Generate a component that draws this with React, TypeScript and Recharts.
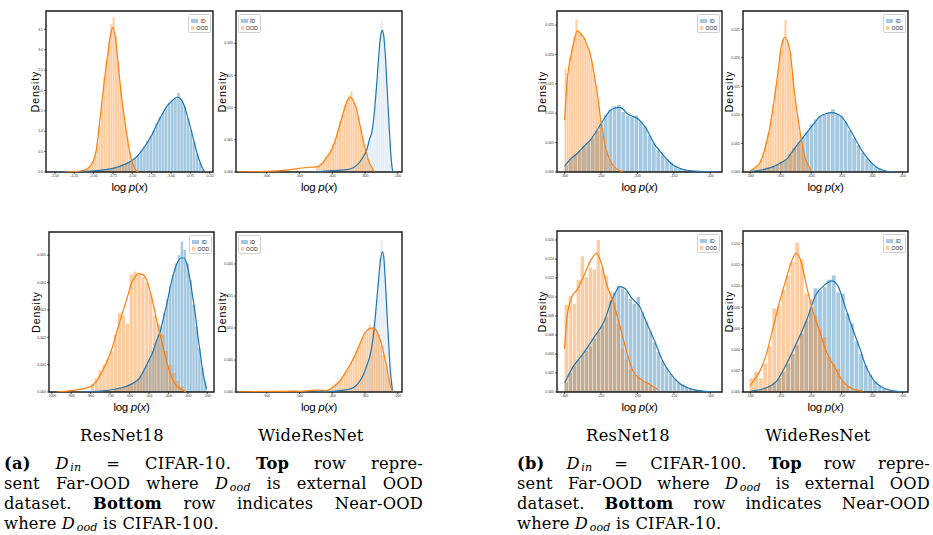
import React from "react";
import { Bar, ComposedChart, Legend, Line, ReferenceArea, XAxis, YAxis } from "recharts";

type Pt = [number, number];

const ID_COLOR = "#1f77b4";
const OOD_COLOR = "#ff7f0e";
const legendItems = [
  { name: "ID", color: ID_COLOR },
  { name: "OOD", color: OOD_COLOR },
];
const modelNames = ["ResNet18", "WideResNet"];

// ---- (a) top-left: ResNet18, CIFAR-10 far ----
const a1XTicks = [-2.5, -2.25, -2.0, -1.75, -1.5, -1.25, -1.0, -0.75, -0.5];
const a1YTicks = [0, 0.5, 1.0, 1.5, 2.0, 2.5, 3.0, 3.5];
const a1IdStart = -1.98;
const a1IdBin = 0.04;
const a1IdHist = [0.03, 0.04, 0.05, 0.06, 0.07, 0.08, 0.1, 0.12, 0.15, 0.17, 0.21, 0.25, 0.29, 0.35, 0.42, 0.52, 0.62, 0.76, 0.88, 1.02, 1.2, 1.36, 1.46, 1.58, 1.7, 1.74, 1.82, 1.94, 1.78, 1.62, 1.32, 1.02, 0.74, 0.44, 0.22, 0.06];
const a1OodStart = -2.22;
const a1OodBin = 0.03;
const a1OodHist = [0.02, 0.02, 0.03, 0.05, 0.07, 0.1, 0.16, 0.26, 0.42, 0.7, 1.15, 1.7, 2.3, 2.75, 3.2, 3.62, 3.8, 3.35, 2.7, 2.15, 1.6, 1.2, 0.85, 0.5, 0.28, 0.12, 0.05, 0.02];
const a1IdKde: Pt[] = [[-2.48, 0], [-2.2, 0.01], [-2.0, 0.03], [-1.85, 0.06], [-1.75, 0.09], [-1.65, 0.15], [-1.55, 0.23], [-1.49, 0.3], [-1.42, 0.42], [-1.36, 0.57], [-1.3, 0.74], [-1.24, 0.94], [-1.18, 1.18], [-1.11, 1.43], [-1.05, 1.62], [-1.0, 1.72], [-0.96, 1.79], [-0.92, 1.84], [-0.88, 1.8], [-0.84, 1.68], [-0.8, 1.45], [-0.76, 1.18], [-0.72, 0.88], [-0.68, 0.58], [-0.64, 0.32], [-0.6, 0.12], [-0.57, 0.03]];
const a1OodKde: Pt[] = [[-2.37, 0], [-2.25, 0.01], [-2.15, 0.03], [-2.08, 0.08], [-2.0, 0.29], [-1.96, 0.6], [-1.93, 1.1], [-1.9, 1.6], [-1.87, 2.1], [-1.84, 2.58], [-1.81, 3.0], [-1.78, 3.38], [-1.75, 3.55], [-1.72, 3.3], [-1.69, 2.8], [-1.66, 2.2], [-1.63, 1.7], [-1.6, 1.3], [-1.57, 0.9], [-1.54, 0.55], [-1.51, 0.3], [-1.48, 0.13], [-1.45, 0.04], [-1.42, 0]];

// ---- (a) top-right: WideResNet, CIFAR-10 far ----
const wideXTicks = [-600, -500, -400, -300, -200];
const wideYTicks = [0, 0.005, 0.01, 0.015, 0.02];
const a2IdStart = -338;
const a2IdBin = 6;
const a2IdHist = [0.0005, 0.0007, 0.0009, 0.0013, 0.0017, 0.0022, 0.0028, 0.0035, 0.0044, 0.0056, 0.0068, 0.0092, 0.0128, 0.0168, 0.0208, 0.0238, 0.0215, 0.016, 0.0102, 0.0048, 0.0012];
const a2OodStart = -446;
const a2OodBin = 7;
const a2OodHist = [0.0008, 0.001, 0.0014, 0.0018, 0.0024, 0.0029, 0.0036, 0.0044, 0.0053, 0.0064, 0.0079, 0.0088, 0.0104, 0.0111, 0.0119, 0.0125, 0.0108, 0.0101, 0.0085, 0.0068, 0.0052, 0.0036, 0.0022, 0.0012, 0.0005];
const a2IdKde: Pt[] = [[-460, 0], [-400, 0.0002], [-350, 0.0004], [-335, 0.0007], [-320, 0.0013], [-305, 0.0024], [-295, 0.0034], [-285, 0.0053], [-279, 0.0062], [-272, 0.009], [-264, 0.0138], [-258, 0.018], [-254, 0.0204], [-250, 0.0217], [-247, 0.022], [-243, 0.0212], [-239, 0.019], [-234, 0.0145], [-229, 0.0096], [-225, 0.006], [-222, 0.0034], [-219, 0.0015], [-216, 0.0003], [-213, 0]];
const a2OodKde: Pt[] = [[-688, 0], [-600, 0.0001], [-540, 0.0003], [-479, 0.0007], [-448, 0.0008], [-433, 0.0012], [-418, 0.0022], [-402, 0.0034], [-389, 0.0052], [-376, 0.0075], [-368, 0.0089], [-361, 0.0101], [-353, 0.0112], [-345, 0.0116], [-337, 0.0112], [-331, 0.0105], [-325, 0.0096], [-318, 0.0079], [-310, 0.006], [-303, 0.0043], [-295, 0.0029], [-288, 0.0016], [-280, 0.0008], [-273, 0.0001]];

// ---- (a) bottom-left: ResNet18, CIFAR-10 near ----
const a3XTicks = [-1000, -900, -800, -700, -600, -500, -400, -300, -200];
const a3YTicks = [0, 0.001, 0.002, 0.003, 0.004, 0.005];
const a3IdStart = -675;
const a3IdBin = 15;
const a3IdHist = [0.0001, 0.0001, 0.00015, 0.0002, 0.00022, 0.00028, 0.00033, 0.0004, 0.0005, 0.0006, 0.0008, 0.001, 0.0012, 0.0015, 0.0018, 0.0021, 0.0024, 0.0029, 0.0034, 0.0039, 0.0043, 0.0047, 0.005, 0.0055, 0.0052, 0.0047, 0.0041, 0.0032, 0.0024, 0.0016, 0.0009, 0.0004];
const a3OodStart = -790;
const a3OodBin = 20;
const a3OodHist = [0.0003, 0.0005, 0.0008, 0.001, 0.0012, 0.0015, 0.0021, 0.0029, 0.0028, 0.0025, 0.0043, 0.0044, 0.0043, 0.0042, 0.004, 0.0036, 0.0028, 0.0025, 0.0021, 0.0015, 0.001, 0.0007, 0.0004, 0.0002];
const a3IdKde: Pt[] = [[-850, 0], [-750, 0.00003], [-675, 0.0001], [-620, 0.0002], [-580, 0.00033], [-550, 0.0005], [-529, 0.00075], [-505, 0.0011], [-478, 0.0015], [-460, 0.0019], [-443, 0.0022], [-426, 0.0027], [-409, 0.0032], [-392, 0.0038], [-375, 0.0043], [-362, 0.0046], [-349, 0.0048], [-336, 0.0049], [-323, 0.0049], [-306, 0.0047], [-289, 0.0041], [-276, 0.0035], [-263, 0.0029], [-250, 0.0021], [-238, 0.0015], [-227, 0.0009], [-217, 0.0005], [-204, 0.0001]];
const a3OodKde: Pt[] = [[-974, 0], [-900, 0.00005], [-820, 0.00015], [-790, 0.00025], [-769, 0.0004], [-745, 0.0007], [-717, 0.0011], [-690, 0.0016], [-666, 0.0022], [-645, 0.0027], [-623, 0.0032], [-606, 0.0036], [-589, 0.004], [-572, 0.0042], [-555, 0.00433], [-535, 0.0043], [-512, 0.0041], [-495, 0.0037], [-478, 0.0032], [-460, 0.0026], [-443, 0.0021], [-426, 0.0016], [-409, 0.0011], [-392, 0.0007], [-375, 0.0004], [-355, 0.0002], [-332, 0.0001], [-310, 0]];

// ---- (a) bottom-right: WideResNet, CIFAR-10 near ----
const a4IdStart = -338;
const a4IdBin = 6;
const a4IdHist = [0.0005, 0.0007, 0.001, 0.0014, 0.0018, 0.0024, 0.003, 0.0039, 0.0048, 0.006, 0.0075, 0.0098, 0.0132, 0.017, 0.021, 0.0238, 0.0212, 0.0158, 0.0098, 0.0046, 0.0012];
const a4OodStart = -418;
const a4OodBin = 7;
const a4OodHist = [0.0003, 0.0005, 0.0007, 0.001, 0.0013, 0.0016, 0.002, 0.0024, 0.0029, 0.0035, 0.0041, 0.0048, 0.0055, 0.0064, 0.0071, 0.0078, 0.0086, 0.0092, 0.0095, 0.0105, 0.0101, 0.0106, 0.0095, 0.0088, 0.0073, 0.0058, 0.0038, 0.0022, 0.0008];
const a4IdKde: Pt[] = [[-460, 0], [-400, 0.0001], [-350, 0.0004], [-335, 0.0007], [-320, 0.0014], [-305, 0.0027], [-295, 0.0041], [-284, 0.0058], [-276, 0.0082], [-269, 0.0115], [-263, 0.015], [-258, 0.0178], [-253, 0.0205], [-247, 0.0219], [-243, 0.0212], [-239, 0.0183], [-235, 0.0145], [-231, 0.0105], [-227, 0.0072], [-224, 0.0043], [-220, 0.002], [-216, 0.0003], [-213, 0]];
const a4OodKde: Pt[] = [[-690, 0], [-600, 0.0001], [-540, 0.0001], [-519, 0.00015], [-500, 0.0001], [-470, 0.0002], [-440, 0.0003], [-420, 0.0002], [-408, 0.0004], [-392, 0.001], [-377, 0.0017], [-365, 0.0026], [-352, 0.0037], [-341, 0.0047], [-330, 0.0058], [-320, 0.007], [-310, 0.0082], [-302, 0.0091], [-294, 0.0096], [-286, 0.0099], [-279, 0.01], [-271, 0.0099], [-264, 0.0095], [-257, 0.0086], [-249, 0.0074], [-241, 0.0056], [-233, 0.0037], [-228, 0.0023], [-223, 0.0011], [-216, 0.0001]];

// ---- (b) top-left: ResNet18, CIFAR-100 far ----
const resXTicks = [-300, -250, -200, -150, -100];
const b1YTicks = [0, 0.005, 0.01, 0.015, 0.02, 0.025];
const b1IdStart = -297;
const b1IdBin = 6;
const b1IdHist = [0.0011, 0.0023, 0.003, 0.0036, 0.0044, 0.005, 0.0058, 0.007, 0.0084, 0.0097, 0.0106, 0.0112, 0.0114, 0.0102, 0.0096, 0.0094, 0.0096, 0.0086, 0.0078, 0.0062, 0.0049, 0.0038, 0.003, 0.0022, 0.0016, 0.001, 0.0007, 0.0005, 0.0003, 0.0002, 0.0001, 0.0001];
const b1OodStart = -298.5;
const b1OodBin = 3;
const b1OodHist = [0.0176, 0.0168, 0.0196, 0.021, 0.0232, 0.026, 0.0242, 0.0236, 0.0228, 0.0222, 0.0214, 0.0206, 0.019, 0.0165, 0.0148, 0.0118, 0.0088, 0.0062, 0.0045, 0.0032, 0.0022, 0.0015, 0.0009, 0.0005, 0.0002];
const b1IdKde: Pt[] = [[-300, 0.001], [-292, 0.0022], [-283, 0.0031], [-274, 0.0043], [-265, 0.0054], [-258, 0.0066], [-251, 0.008], [-244, 0.0094], [-237, 0.0105], [-230, 0.0109], [-224, 0.011], [-219, 0.0106], [-214, 0.0099], [-207, 0.0095], [-200, 0.0091], [-194, 0.0084], [-188, 0.0074], [-182, 0.006], [-177, 0.0048], [-170, 0.0037], [-163, 0.0026], [-156, 0.0017], [-150, 0.0011], [-141, 0.0006], [-132, 0.0003], [-115, 0.0001], [-90, 0]];
const b1OodKde: Pt[] = [[-300, 0.0088], [-298, 0.0125], [-296.8, 0.0151], [-294, 0.018], [-292, 0.0193], [-289, 0.0212], [-286, 0.0228], [-283, 0.024], [-280, 0.0238], [-277, 0.0234], [-274, 0.023], [-270, 0.0218], [-265, 0.0202], [-261, 0.0178], [-258, 0.0156], [-254, 0.0125], [-251, 0.0094], [-247, 0.0065], [-244, 0.0043], [-240, 0.0027], [-235, 0.0014], [-230, 0.0007], [-226, 0.0003], [-220, 0.0001]];

// ---- (b) top-right: WideResNet, CIFAR-100 far ----
const wide100XTicks = [-500, -450, -400, -350, -300, -250];
const b2IdStart = -497;
const b2IdBin = 7;
const b2IdHist = [0.0001, 0.0003, 0.0004, 0.0006, 0.0008, 0.001, 0.0013, 0.0018, 0.0022, 0.0031, 0.0042, 0.0052, 0.0061, 0.0071, 0.0083, 0.0092, 0.0098, 0.01, 0.0104, 0.011, 0.0101, 0.0098, 0.0088, 0.0073, 0.006, 0.0047, 0.0034, 0.0024, 0.0016, 0.001, 0.0006, 0.0003];
const b2OodStart = -498;
const b2OodBin = 4;
const b2OodHist = [0.0004, 0.0007, 0.001, 0.0014, 0.0022, 0.0034, 0.0052, 0.0068, 0.0093, 0.0118, 0.015, 0.0178, 0.0212, 0.0232, 0.0266, 0.0228, 0.0206, 0.0172, 0.0128, 0.0098, 0.0069, 0.0044, 0.0026, 0.0014, 0.0005];
const b2IdKde: Pt[] = [[-500, 0.0001], [-480, 0.0004], [-463, 0.0009], [-452, 0.0015], [-440, 0.0023], [-430, 0.0037], [-419, 0.0053], [-410, 0.0065], [-402, 0.0076], [-394, 0.0087], [-386, 0.0097], [-376, 0.0102], [-366, 0.0104], [-358, 0.0102], [-350, 0.0097], [-342, 0.0085], [-334, 0.007], [-325, 0.0053], [-317, 0.0038], [-308, 0.0025], [-300, 0.0015], [-292, 0.0008], [-284, 0.0004], [-275, 0.0001], [-265, 0]];
const b2OodKde: Pt[] = [[-500, 0.0002], [-492, 0.0008], [-485, 0.0015], [-479, 0.003], [-474, 0.005], [-469, 0.0072], [-465, 0.0097], [-461, 0.0125], [-457, 0.0155], [-453, 0.0188], [-450, 0.0214], [-447, 0.0229], [-443.6, 0.0236], [-440, 0.0232], [-437, 0.0222], [-435, 0.0214], [-432, 0.0187], [-429, 0.0155], [-426, 0.0126], [-422, 0.0097], [-418, 0.0068], [-414, 0.0044], [-410, 0.0025], [-405, 0.0012], [-400, 0.0002]];

// ---- (b) bottom-left: ResNet18, CIFAR-100 near ----
const b3YTicks = [0, 0.002, 0.004, 0.006, 0.008, 0.01, 0.012, 0.014, 0.016];
const b3IdStart = -297.25;
const b3IdBin = 5.5;
const b3IdHist = [0.001, 0.002, 0.0028, 0.0034, 0.0039, 0.0043, 0.0048, 0.0056, 0.0063, 0.007, 0.0079, 0.0096, 0.0105, 0.0112, 0.0109, 0.0106, 0.0098, 0.0093, 0.01, 0.0084, 0.0074, 0.0064, 0.0052, 0.0042, 0.0033, 0.0026, 0.0019, 0.0014, 0.001, 0.0008, 0.0006, 0.0004, 0.0003, 0.0002, 0.0001];
const b3OodStart = -297.25;
const b3OodBin = 5.5;
const b3OodHist = [0.0092, 0.0101, 0.0093, 0.0118, 0.0143, 0.0121, 0.0131, 0.0129, 0.016, 0.013, 0.0122, 0.0106, 0.0094, 0.0072, 0.0046, 0.0034, 0.0024, 0.0018, 0.0016, 0.0013, 0.001, 0.0007, 0.0004];
const b3IdKde: Pt[] = [[-300, 0.00095], [-288, 0.0027], [-274, 0.0041], [-260, 0.0057], [-246, 0.0074], [-235, 0.0097], [-230, 0.0105], [-224.5, 0.0111], [-217, 0.0109], [-208, 0.0099], [-197, 0.009], [-188, 0.0074], [-176, 0.0053], [-165, 0.0032], [-151, 0.0016], [-142, 0.0009], [-133, 0.0005], [-120, 0.0002], [-110, 0.0001], [-90, 0]];
const b3OodKde: Pt[] = [[-300, 0.00455], [-296.8, 0.0078], [-289.8, 0.01005], [-283, 0.01075], [-274, 0.01215], [-265, 0.01373], [-256, 0.0146], [-249, 0.0134], [-242.7, 0.01145], [-233.5, 0.0095], [-224.5, 0.0071], [-215, 0.0043], [-206, 0.0022], [-194.6, 0.0013], [-183, 0.0008], [-172, 0.00025]];

// ---- (b) bottom-right: WideResNet, CIFAR-100 near ----
const b4YTicks = [0, 0.002, 0.004, 0.006, 0.008, 0.01, 0.012, 0.014];
const b4IdStart = -490;
const b4IdBin = 7.5;
const b4IdHist = [0.0001, 0.0002, 0.0004, 0.0006, 0.0009, 0.0013, 0.0019, 0.0027, 0.0036, 0.0044, 0.0055, 0.0067, 0.0078, 0.0098, 0.0096, 0.0099, 0.0106, 0.011, 0.0094, 0.0093, 0.0074, 0.0065, 0.0048, 0.0036, 0.0025, 0.0016, 0.001, 0.0006, 0.0003, 0.0001];
const b4OodStart = -497.5;
const b4OodBin = 7.5;
const b4OodHist = [0.0013, 0.0019, 0.0013, 0.0027, 0.0043, 0.0079, 0.0081, 0.0097, 0.011, 0.0123, 0.0141, 0.0125, 0.0093, 0.0088, 0.0072, 0.006, 0.0052, 0.0033, 0.0026, 0.0022, 0.001, 0.0005];
const b4IdKde: Pt[] = [[-498, 0.0001], [-474, 0.0004], [-457, 0.001], [-441, 0.0026], [-425, 0.0045], [-408, 0.0067], [-392, 0.0092], [-378, 0.0101], [-366, 0.0105], [-356, 0.01], [-345, 0.0082], [-334, 0.0063], [-320, 0.0041], [-310, 0.0024], [-296, 0.001], [-282, 0.0004], [-265, 0.0001], [-250, 0]];
const b4OodKde: Pt[] = [[-500, 0.0006], [-498.4, 0.00075], [-485, 0.0019], [-474, 0.0035], [-463, 0.006], [-452, 0.0085], [-441, 0.0107], [-433, 0.0122], [-425, 0.0131], [-416.5, 0.0123], [-408, 0.0101], [-397, 0.0076], [-386, 0.0057], [-375, 0.0038], [-361, 0.0023], [-348, 0.001], [-332, 0.0003], [-315, 0.0001]];

// ---------- layout ----------
const PAD_L = 30;
const PAD_R = 4;
const PAD_T = 4;
const PAD_B = 26;
const XH = 10;
const YW = 20;

interface PanelSpec {
  box: [number, number, number, number];
  xDomain: [number, number];
  yDomain: [number, number];
  xTicks: number[];
  yTicks: number[];
  xDigits: number;
  yDigits: number;
  idStart: number;
  idBin: number;
  idHist: number[];
  oodStart: number;
  oodBin: number;
  oodHist: number[];
  idKde: Pt[];
  oodKde: Pt[];
  legendLeft?: boolean;
  idAlpha?: number;
  yGap: number;
}

const panels: PanelSpec[] = [
  { box: [46, 11, 213, 172], xDomain: [-2.616, -0.457], yDomain: [0, 3.95], xTicks: a1XTicks, yTicks: a1YTicks, xDigits: 2, yDigits: 1, idStart: a1IdStart, idBin: a1IdBin, idHist: a1IdHist, oodStart: a1OodStart, oodBin: a1OodBin, oodHist: a1OodHist, idKde: a1IdKde, oodKde: a1OodKde, yGap: 11 },
  { box: [236, 11, 402, 172], xDomain: [-694, -187], yDomain: [0, 0.025], xTicks: wideXTicks, yTicks: wideYTicks, xDigits: 0, yDigits: 3, idStart: a2IdStart, idBin: a2IdBin, idHist: a2IdHist, oodStart: a2OodStart, oodBin: a2OodBin, oodHist: a2OodHist, idKde: a2IdKde, oodKde: a2OodKde, legendLeft: true, idAlpha: 0.12, yGap: 14 },
  { box: [49, 232, 214, 392], xDomain: [-1014, -166], yDomain: [0, 0.00585], xTicks: a3XTicks, yTicks: a3YTicks, xDigits: 0, yDigits: 3, idStart: a3IdStart, idBin: a3IdBin, idHist: a3IdHist, oodStart: a3OodStart, oodBin: a3OodBin, oodHist: a3OodHist, idKde: a3IdKde, oodKde: a3OodKde, yGap: 13 },
  { box: [236, 232, 402, 392], xDomain: [-694, -187], yDomain: [0, 0.025], xTicks: wideXTicks, yTicks: wideYTicks, xDigits: 0, yDigits: 3, idStart: a4IdStart, idBin: a4IdBin, idHist: a4IdHist, oodStart: a4OodStart, oodBin: a4OodBin, oodHist: a4OodHist, idKde: a4IdKde, oodKde: a4OodKde, legendLeft: true, idAlpha: 0.12, yGap: 14 },
  { box: [557, 11, 722, 172], xDomain: [-310.4, -83.9], yDomain: [0, 0.0274], xTicks: resXTicks, yTicks: b1YTicks, xDigits: 0, yDigits: 3, idStart: b1IdStart, idBin: b1IdBin, idHist: b1IdHist, oodStart: b1OodStart, oodBin: b1OodBin, oodHist: b1OodHist, idKde: b1IdKde, oodKde: b1OodKde, yGap: 15 },
  { box: [743, 11, 908, 172], xDomain: [-512, -241], yDomain: [0, 0.0282], xTicks: wide100XTicks, yTicks: b1YTicks, xDigits: 0, yDigits: 3, idStart: b2IdStart, idBin: b2IdBin, idHist: b2IdHist, oodStart: b2OodStart, oodBin: b2OodBin, oodHist: b2OodHist, idKde: b2IdKde, oodKde: b2OodKde, yGap: 14 },
  { box: [557, 231, 722, 392], xDomain: [-310.4, -83.9], yDomain: [0, 0.01695], xTicks: resXTicks, yTicks: b3YTicks, xDigits: 0, yDigits: 3, idStart: b3IdStart, idBin: b3IdBin, idHist: b3IdHist, oodStart: b3OodStart, oodBin: b3OodBin, oodHist: b3OodHist, idKde: b3IdKde, oodKde: b3OodKde, yGap: 15 },
  { box: [743, 231, 908, 392], xDomain: [-512, -241], yDomain: [0, 0.0152], xTicks: wide100XTicks, yTicks: b4YTicks, xDigits: 0, yDigits: 3, idStart: b4IdStart, idBin: b4IdBin, idHist: b4IdHist, oodStart: b4OodStart, oodBin: b4OodBin, oodHist: b4OodHist, idKde: b4IdKde, oodKde: b4OodKde, yGap: 14 },
];

function histRows(start: number, bin: number, values: number[]) {
  return values.map((y, i) => ({ x: start + i * bin, y }));
}

function kdeRows(id: Pt[], ood: Pt[]) {
  const rows: { x: number; id?: number; ood?: number }[] = [
    ...id.map(([x, y]) => ({ x, id: y })),
    ...ood.map(([x, y]) => ({ x, ood: y })),
  ];
  return rows.sort((a, b) => a.x - b.x);
}

function LegendBox() {
  return (
    <div
      style={{
        width: 23,
        height: 19,
        boxSizing: "border-box",
        border: "0.6px solid #cfcfcf",
        borderRadius: 1.5,
        background: "rgba(255,255,255,0.85)",
        padding: "2.5px 2px",
        fontFamily: "Liberation Sans, Arial, sans-serif",
        fontSize: 5,
        color: "#222",
      }}
    >
      {legendItems.map((it) => (
        <div key={it.name} style={{ display: "flex", alignItems: "center", height: 7 }}>
          <span style={{ display: "inline-block", width: 7, height: 3.5, background: it.color, opacity: 0.4, marginRight: 2.5 }} />
          <span>{it.name}</span>
        </div>
      ))}
    </div>
  );
}

function Panel({ spec }: { spec: PanelSpec }) {
  const [l, t, r, b] = spec.box;
  const bw = r - l;
  const bh = b - t;
  const W = bw + PAD_L + PAD_R;
  const H = bh + PAD_T + PAD_B;
  const span = spec.xDomain[1] - spec.xDomain[0];
  const hiddenMargin = { top: PAD_T, right: PAD_R, bottom: PAD_B, left: PAD_L };
  const layer: React.CSSProperties = { position: "absolute", left: 0, top: 0 };

  const barLayer = (start: number, bin: number, values: number[], color: string, alpha: number) => (
    <div style={layer}>
      <ComposedChart width={W} height={H} data={histRows(start, bin, values)} margin={hiddenMargin}>
        <XAxis hide type="number" dataKey="x" domain={spec.xDomain} allowDataOverflow />
        <YAxis hide type="number" domain={spec.yDomain} allowDataOverflow />
        <Bar dataKey="y" fill={color} fillOpacity={alpha} barSize={(bin / span) * bw * 0.86} isAnimationActive={false} />
      </ComposedChart>
    </div>
  );

  const densityLabel = (props: any) => {
    const vb = props.viewBox || {};
    const x = vb.x + vb.width - spec.yGap;
    const y = vb.y + vb.height / 2;
    return (
      <text x={x} y={y} transform={`rotate(-90 ${x} ${y})`} textAnchor="middle" dominantBaseline="central" fontSize={10.5} letterSpacing={0.9} fontFamily="Liberation Sans, Arial, sans-serif" fill="#000">
        Density
      </text>
    );
  };

  const xLabel = (props: any) => {
    const vb = props.viewBox || {};
    const x = vb.x + vb.width / 2;
    const y = vb.y + 15;
    return (
      <text x={x} y={y} textAnchor="middle" dominantBaseline="central" fontSize={11.5} letterSpacing={-0.3} fontFamily="Liberation Sans, Arial, sans-serif" fill="#000">
        <tspan>log </tspan>
        <tspan fontStyle="italic">p</tspan>
        <tspan>(</tspan>
        <tspan fontStyle="italic">x</tspan>
        <tspan>)</tspan>
      </text>
    );
  };

  const tickStyle = { fontSize: 3.5, fill: "#333", fontFamily: "Liberation Sans, Arial, sans-serif" };
  const legendLeft = spec.legendLeft ? PAD_L + 1.5 : PAD_L + bw - 2 - 23;

  return (
    <div style={{ position: "absolute", left: l - PAD_L, top: t - PAD_T, width: W, height: H }}>
      {barLayer(spec.idStart, spec.idBin, spec.idHist, ID_COLOR, spec.idAlpha ?? 0.4)}
      {barLayer(spec.oodStart, spec.oodBin, spec.oodHist, OOD_COLOR, 0.4)}
      <div style={layer}>
        <ComposedChart
          width={W}
          height={H}
          data={kdeRows(spec.idKde, spec.oodKde)}
          margin={{ top: PAD_T, right: PAD_R, bottom: PAD_B - XH, left: PAD_L - YW }}
        >
          <XAxis
            type="number"
            dataKey="x"
            domain={spec.xDomain}
            allowDataOverflow
            ticks={spec.xTicks}
            interval={0}
            height={XH}
            tickSize={2}
            tickMargin={1}
            axisLine={false}
            tickLine={{ stroke: "#000", strokeWidth: 0.6 }}
            tick={tickStyle}
            tickFormatter={(v: number) => v.toFixed(spec.xDigits)}
            label={xLabel}
          />
          <YAxis
            type="number"
            domain={spec.yDomain}
            allowDataOverflow
            ticks={spec.yTicks}
            interval={0}
            width={YW}
            tickSize={2}
            tickMargin={1}
            axisLine={false}
            tickLine={{ stroke: "#000", strokeWidth: 0.6 }}
            tick={tickStyle}
            tickFormatter={(v: number) => v.toFixed(spec.yDigits)}
            label={densityLabel}
          />
          <Line type="monotone" dataKey="id" stroke={ID_COLOR} strokeWidth={1.2} dot={false} connectNulls isAnimationActive={false} />
          <Line type="monotone" dataKey="ood" stroke={OOD_COLOR} strokeWidth={1.2} dot={false} connectNulls isAnimationActive={false} />
          <ReferenceArea x1={spec.xDomain[0]} x2={spec.xDomain[1]} y1={spec.yDomain[0]} y2={spec.yDomain[1]} fill="none" stroke="#1a1a1a" strokeWidth={1.4} ifOverflow="visible" />
          <Legend layout="vertical" align="center" verticalAlign="middle" wrapperStyle={{ top: PAD_T + 3, left: legendLeft, width: 23 }} content={() => <LegendBox />} />
        </ComposedChart>
      </div>
    </div>
  );
}

const serif = "'DejaVu Serif', serif";
const sub: React.CSSProperties = { fontSize: "0.68em", fontStyle: "italic", verticalAlign: "-0.2em", lineHeight: 0, marginLeft: 1.5 };
const justify: React.CSSProperties = { textAlign: "justify", textAlignLast: "justify", height: 20 };

function Caption({ left, width, tag, din, dood }: { left: number; width: number; tag: string; din: string; dood: string }) {
  return (
    <div style={{ position: "absolute", left, top: 454, width, fontFamily: serif, fontSize: 16.3, lineHeight: "20px", letterSpacing: 0.2, color: "#000" }}>
      <div style={justify}>
        <b>({tag})</b> <i>D</i><span style={sub}>in</span> = {din}. <b>Top</b> row repre-
      </div>
      <div style={justify}>
        sent Far-OOD where <i>D</i><span style={sub}>ood</span> is external OOD
      </div>
      <div style={justify}>
        dataset. <b>Bottom</b> row indicates Near-OOD
      </div>
      <div style={{ height: 20 }}>
        where <i>D</i><span style={sub}>ood</span> is {dood}.
      </div>
    </div>
  );
}

function ModelName({ cx, text }: { cx: number; text: string }) {
  return (
    <div style={{ position: "absolute", left: cx - 70, top: 426, width: 140, textAlign: "center", fontFamily: serif, fontSize: 16.3, lineHeight: "19px", letterSpacing: 0.3 }}>
      {text}
    </div>
  );
}

export default function App() {
  return (
    <div style={{ position: "absolute", left: 0, top: 0, width: 933, height: 535, background: "#fff", overflow: "hidden" }}>
      {panels.map((p, i) => (
        <Panel key={i} spec={p} />
      ))}
      <ModelName cx={122} text={modelNames[0]} />
      <ModelName cx={311} text={modelNames[1]} />
      <ModelName cx={628} text={modelNames[0]} />
      <ModelName cx={818} text={modelNames[1]} />
      <Caption left={4} width={419} tag="a" din="CIFAR-10" dood="CIFAR-100" />
      <Caption left={517} width={413} tag="b" din="CIFAR-100" dood="CIFAR-10" />
    </div>
  );
}
